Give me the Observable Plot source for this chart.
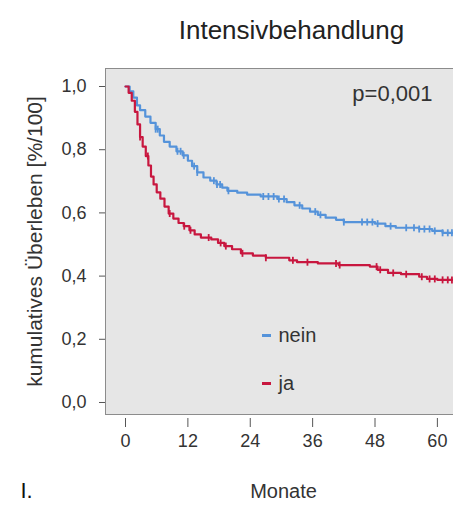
<!DOCTYPE html>
<html><head><meta charset="utf-8">
<script src="https://cdn.jsdelivr.net/npm/d3@7"></script>
<script src="https://cdn.jsdelivr.net/npm/@observablehq/plot@0.6"></script>
<style>body{margin:0;background:#fff;font-family:"Liberation Sans",Arial,sans-serif}</style>
</head><body><div id="chart"></div>
<script>
const title = "Intensivbehandlung";
const xLabel = "Monate";
const yLabel = "kumulatives Überleben [%/100]";
const panelTag = "I.";
const pText = "p=0,001";
const groups = ["nein", "ja"];
const groupColors = ["#5593da", "#c8173f"];
const xTicks = [0, 12, 24, 36, 48, 60];
const yTicks = [0, 0.2, 0.4, 0.6, 0.8, 1.0];

const neinMonths = [0,0.8,1.5,2.2,2.8,3.8,4.8,5.8,6.6,7.4,8.5,9.8,11,12,12.8,13.8,15,16.3,17.5,18.6,19.6,21.5,23.4,26,29.2,31,32.5,34,35.5,37,38.5,40.5,42,48,50,52,56.5,59,61,63.5];
const neinSurv   = [1,0.985,0.965,0.94,0.925,0.905,0.885,0.865,0.845,0.825,0.81,0.795,0.782,0.765,0.748,0.728,0.712,0.702,0.69,0.68,0.67,0.664,0.658,0.652,0.644,0.634,0.624,0.614,0.604,0.594,0.585,0.578,0.571,0.566,0.558,0.553,0.549,0.543,0.537,0.533];
const jaMonths = [0,0.6,1.2,1.8,2.3,2.8,3.3,3.9,4.4,4.9,5.4,6,6.7,7.5,8.3,9.2,10.2,11.2,12.3,13.3,14.5,16.5,17.8,19,20.5,22.2,24.5,27,31.5,33,37,41,47,48.5,50.5,53,56.5,58,60,63.5];
const jaSurv   = [1,0.98,0.955,0.92,0.88,0.84,0.81,0.78,0.75,0.715,0.69,0.665,0.645,0.62,0.598,0.582,0.568,0.558,0.545,0.532,0.522,0.516,0.505,0.495,0.485,0.472,0.465,0.458,0.45,0.444,0.44,0.435,0.43,0.42,0.41,0.406,0.398,0.391,0.388,0.386];

const neinCensored = [5.8,6.2,10,10.6,11.2,13.2,13.8,17,17.6,18.2,19.8,26.5,27.5,28.5,29.5,30.5,33.5,36.5,37.5,42,45.5,46.5,47.5,48.5,51,54,55.5,56.5,57.5,58.5,59.5,61,62,62.8];
const jaCensored = [2.8,4.3,8.5,11.3,12.5,16,18.3,19.3,22.5,27,32.2,35,40.5,41.2,48.3,49,51.5,54,57,58.5,59.5,61,62,62.8];

const months = [neinMonths, jaMonths];
const surv = [neinSurv, jaSurv];
const censored = [neinCensored, jaCensored];

const curves = groups.flatMap((g, i) => months[i].map((t, j) => ({group: g, t, s: surv[i][j]})));
const stepAt = (i, t) => surv[i][d3.bisectRight(months[i], t) - 1];
const censorMarks = groups.flatMap((g, i) => censored[i].map(t => ({group: g, t, s: stepAt(i, t)})));

const vbar = {draw(ctx) { ctx.moveTo(0, -3.5); ctx.lineTo(0, 3.5); }};
const hbar = {draw(ctx) { ctx.moveTo(-4.5, 0); ctx.lineTo(4.5, 0); }};
const color = {domain: groups, range: groupColors};
const textColor = "#333";

const legendMarks = groups.flatMap((g, i) => [
  Plot.dot([g], {frameAnchor: "bottom-left", dx: 161, dy: -79 + i * 48, symbol: hbar, stroke: d => d, strokeWidth: 3, r: 4}),
  Plot.text([g], {frameAnchor: "bottom-left", dx: 173, dy: -79 + i * 48, text: d => d, textAnchor: "start", lineAnchor: "middle", fontSize: 20, fill: textColor})
]);

const chart = Plot.plot({
  width: 453, height: 505,
  marginLeft: 105, marginRight: 0, marginTop: 68, marginBottom: 91,
  style: {fontFamily: '"Liberation Sans", Arial, sans-serif', color: textColor, background: "#fff"},
  x: {domain: [-3.85, 63.1], axis: null},
  y: {domain: [-0.038, 1.057], axis: null},
  color,
  marks: [
    Plot.frame({fill: "#e6e6e6", stroke: "#8c8c8c", insetRight: -3}),
    Plot.axisY(yTicks, {tickSize: 6, tickPadding: 13, fontSize: 18, tickFormat: d => d.toFixed(1).replace(".", ","), label: null, stroke: "#555", fill: textColor}),
    Plot.axisX(xTicks, {tickSize: 9, tickPadding: 7, dy: 4, fontSize: 18, label: null, stroke: "#555", fill: textColor}),
    Plot.line(curves, {x: "t", y: "s", z: "group", stroke: "group", curve: "step-after", strokeWidth: 2.2}),
    Plot.dot(censorMarks, {x: "t", y: "s", symbol: vbar, stroke: "group", strokeWidth: 1.8, r: 4}),
    Plot.text([title], {frameAnchor: "top", dx: 12, dy: -38, lineAnchor: "middle", fontSize: 26, fill: "#222"}),
    Plot.text([pText], {frameAnchor: "top-right", dx: -21, dy: 25, textAnchor: "end", lineAnchor: "middle", fontSize: 22, fill: textColor}),
    Plot.text([yLabel], {frameAnchor: "left", dx: -70, rotate: -90, textAnchor: "middle", lineAnchor: "middle", fontSize: 21, fill: textColor}),
    Plot.text([xLabel], {frameAnchor: "bottom", dx: 4, dy: 77, lineAnchor: "middle", fontSize: 20, fill: textColor}),
    Plot.text([panelTag], {frameAnchor: "bottom-left", dx: -85, dy: 76, textAnchor: "start", lineAnchor: "middle", fontSize: 22, fill: "#111"}),
    ...legendMarks
  ]
});
document.getElementById("chart").append(chart);
</script>
</body></html>
